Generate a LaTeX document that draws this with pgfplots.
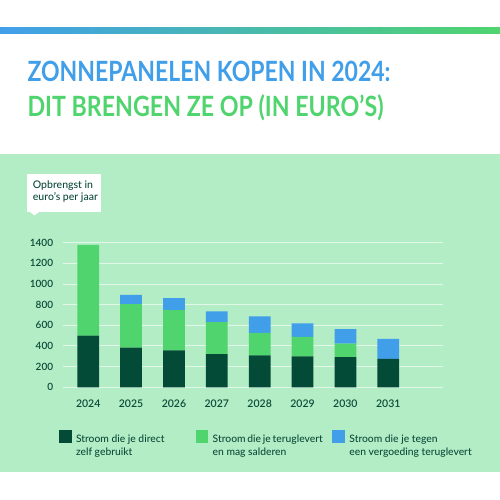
\documentclass[border=0pt]{standalone}
\usepackage{pgfplots}
\pgfplotsset{compat=1.18}
\usepackage{fontspec}
\setmainfont{Lato}
\newfontfamily\medfont{Lato Medium}
\newfontfamily\sbfont{Lato Semibold}
\definecolor{dkg}{HTML}{034B37}
\definecolor{lgr}{HTML}{50D46E}
\definecolor{blu}{HTML}{419FEA}
\definecolor{panel}{HTML}{B3EDC5}
\definecolor{txt}{HTML}{0C4A3A}
\definecolor{gridc}{HTML}{E3F7E9}
\begin{document}
\begin{tikzpicture}[x=1pt,y=1pt]
\fill[white] (0,0) rectangle (500,500);
\shade[left color=blu, right color=lgr] (0,466.7) rectangle (500,472);
\fill[panel] (0,28) rectangle (500,346);
\node[anchor=base west, inner sep=0pt, text=blu] at (27.3,418.3) {\resizebox{363pt}{\height}{\fontsize{27.9}{30}\selectfont\bfseries ZONNEPANELEN KOPEN IN 2024:}};
\node[anchor=base west, inner sep=0pt, text=lgr] at (27.3,383.3) {\resizebox{356pt}{\height}{\fontsize{27.9}{30}\selectfont\bfseries DIT BRENGEN ZE OP (IN EURO’S)}};
\fill[white] (26.7,288) rectangle (101,326);
\fill[white] (29.5,288.5) -- (34.5,284.5) -- (39.5,288.5) -- cycle;
\node[anchor=base west, inner sep=0pt, text=txt, font=\medfont\fontsize{10.5}{12}\selectfont] at (32.7,311.3) {Opbrengst in};
\node[anchor=base west, inner sep=0pt, text=txt, font=\medfont\fontsize{10.5}{12}\selectfont] at (32.7,299.8) {euro’s per jaar};
\begin{axis}[
  at={(63pt,112.7pt)}, anchor=south west, scale only axis,
  width=379.7pt, height=144.6pt,
  ybar stacked, bar width=21.7pt,
  xmin=-0.588, xmax=8.27, ymin=0, ymax=1400,
  xtick={0,...,7}, xticklabels={2024,2025,2026,2027,2028,2029,2030,2031},
  ytick={0,200,...,1400},
  axis line style={draw=none}, major tick length=0pt,
  ymajorgrids, grid style={gridc, line width=1pt},
  tick label style={text=txt},
  yticklabel style={font=\sbfont\fontsize{10}{11}\selectfont},
  /pgf/number format/assume math mode=true, /pgf/number format/1000 sep={},
  yticklabel style={anchor=east, inner sep=0pt, xshift=-9.7pt},
  xticklabel style={anchor=center, inner sep=0pt, yshift=-16pt, font=\sbfont\fontsize{10.5}{11}\selectfont},
  legend columns=3,
  legend cell align=left,
  legend style={at={(axis description cs:-0.0105,-0.2953)}, anchor=north west,
    draw=none, fill=none, inner sep=0pt, outer sep=0pt,
    nodes={inner sep=0pt, outer sep=0pt, text=txt, font=\medfont\fontsize{10.3}{12.7}\selectfont},
    /tikz/every even column/.append style={column sep=9.7pt},
    /tikz/every odd column/.append style={column sep=4.3pt}},
  every axis plot post/.append style={legend image code/.code={\fill[##1] (0pt,-3.4pt) rectangle (12.7pt,9.3pt);}},
]
\addplot[fill=dkg, draw=none] coordinates {(0,500) (1,385) (2,358) (3,320) (4,308) (5,300) (6,293) (7,274)};
\addlegendentry{\parbox[t]{110pt}{Stroom die je direct\\zelf gebruikt}}
\addplot[fill=lgr, draw=none] coordinates {(0,880) (1,420) (2,390) (3,312) (4,220) (5,187) (6,129) (7,0)};
\addlegendentry{\parbox[t]{110pt}{Stroom die je teruglevert\\en mag salderen}}
\addplot[fill=blu, draw=none] coordinates {(0,0) (1,90) (2,116) (3,103) (4,158) (5,132) (6,142) (7,194)};
\addlegendentry{\parbox[t]{140pt}{Stroom die je tegen\\een vergoeding teruglevert}}
\end{axis}
\pgfresetboundingbox
\useasboundingbox (0,0) rectangle (500,500);
\end{tikzpicture}
\end{document}
